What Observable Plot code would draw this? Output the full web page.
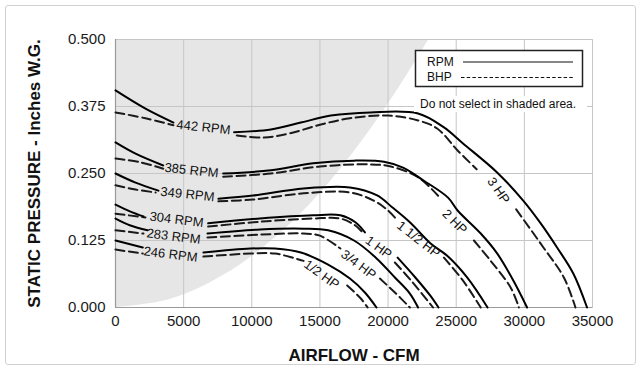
<!DOCTYPE html>
<html>
<head>
<meta charset="utf-8">
<script src="https://cdn.jsdelivr.net/npm/d3@7"></script>
<script src="https://cdn.jsdelivr.net/npm/@observablehq/plot@0.6"></script>
<style>
  html, body { margin: 0; padding: 0; background: #fff; }
  #wrap { position: relative; width: 643px; height: 368px; overflow: hidden; }
  #border { position: absolute; left: 5px; top: 5px; width: 631px; height: 360px; border: 1px solid #d2d2d2; border-radius: 3px; box-sizing: border-box; }
  #chart { position: absolute; left: 0; top: 0; }
  #overlay { position: absolute; left: 0; top: 0; pointer-events: none; }
</style>
</head>
<body>
<div id="wrap">
  <div id="border"></div>
  <div id="chart"></div>
  <svg id="overlay" width="643" height="368"></svg>
</div>
<script>
// ---------- data (airflow CFM, static pressure in. W.G.) ----------
const xTicks = [0, 5000, 10000, 15000, 20000, 25000, 30000, 35000];
const yTicks = [0, 0.125, 0.25, 0.375, 0.5];

// boundary of the shaded "do not select" region
const shadeBoundary = [[0,0],[4000,0.015],[8000,0.061],[12000,0.136],[16000,0.242],[20000,0.379],[23000,0.5]];

// RPM curves (solid); null = gap for label
const rpm442 = [[0,0.405],[2200,0.371],[4250,0.345],null,[8700,0.327],[11400,0.332],[13600,0.345],[15800,0.358],[18700,0.364],[22200,0.362],[24100,0.336],[25500,0.306],[28000,0.252],[29900,0.200],[31200,0.157],[32400,0.112],[33600,0.063],[34600,0]];
const rpm385 = [[0,0.308],[1470,0.287],[3500,0.265],null,[7900,0.250],[11400,0.256],[14500,0.269],[17500,0.274],[19700,0.272],[21100,0.261],[22600,0.237],[24400,0.205],[25100,0.181],[26800,0.138],[28000,0.101],[29200,0.050],[30200,0]];
const rpm349 = [[0,0.250],[1470,0.233],[3150,0.218],null,[7550,0.203],[10100,0.209],[13800,0.222],[17200,0.224],[19200,0.209],[20300,0.187],[21600,0.159],[23100,0.120],[24400,0.095],[25800,0.056],[27300,0]];
const rpm304 = [[0,0.192],[1100,0.179],[2050,0.170],null,[6800,0.157],[10600,0.166],[14500,0.172],[16500,0.172],[17600,0.159],[18300,0.140],null,[20700,0.093],[22000,0.056],[23100,0.022],[23700,0]];
const rpm283 = [[0,0.166],[1100,0.153],[2350,0.144],null,[6750,0.138],[10600,0.1455],[13800,0.147],[15600,0.144],[17500,0.125],[19100,0.093],[20500,0.056],[21600,0.026],[22200,0]];
const rpm246 = [[0,0.125],[2000,0.112],null,[6450,0.1026],[9900,0.110],[11700,0.110],[13600,0.1026],[15600,0.080],[17200,0.054],[18300,0.028],[19150,0]];

// BHP curves (dashed)
const bhp3 = [[0,0.364],[2200,0.353],[4250,0.340],null,[8900,0.321],[10900,0.317],[12800,0.325],[15000,0.341],[17200,0.353],[20000,0.358],[22200,0.349],[23600,0.334],[25100,0.293],[26500,0.258],null,[29400,0.183],[31400,0.112],[32900,0.056],[33750,0]];
const bhp2 = [[0,0.278],[1800,0.271],[3500,0.259],null,[7900,0.244],[11400,0.250],[15000,0.263],[18700,0.267],[20200,0.263],[22200,0.243],[23800,0.205],null,[26300,0.125],[27500,0.088],[29000,0.037],[29600,0]];
const bhp15 = [[0,0.228],[1470,0.220],[2950,0.2146],null,[7550,0.198],[10100,0.2015],[13800,0.213],[17200,0.2146],[18900,0.200],[20000,0.181],[20700,0.162],null,[24100,0.093],[25500,0.050],[26800,0]];
const bhp1 = [[0,0.175],[2200,0.168],null,[6800,0.151],[10600,0.160],[14500,0.166],[16500,0.166],[17600,0.153],[18200,0.138],null,[20500,0.084],[21800,0.047],[23300,0]];
const bhp34 = [[0,0.144],[2050,0.138],null,[6750,0.1306],[10600,0.136],[13800,0.138],[15000,0.134],[16500,0.110],null,[19400,0.054],[20500,0.028],[21600,0]];
const bhp12 = [[0,0.108],[2000,0.1007],null,[6450,0.095],[9900,0.1007],[11700,0.1007],[13200,0.0914],[13800,0.087],null,[17000,0.041],[18000,0.0168],[18500,0]];

// curve labels
const rpmText  = ["442 RPM","385 RPM","349 RPM","304 RPM","283 RPM","246 RPM"];
const rpmX     = [6450, 5580, 5280, 4480, 4260, 4040];
const rpmY     = [0.336, 0.2556, 0.211, 0.164, 0.1325, 0.099];
const rpmAngle = [6, 6, 6, 7, 7, 7];

const hpText  = ["3 HP","2 HP","1 1/2 HP","1 HP","3/4 HP","1/2 HP"];
const hpX     = [28100, 24880, 22230, 19300, 17830, 15120];
const hpY     = [0.218, 0.160, 0.127, 0.112, 0.080, 0.0616];
const hpAngle = [55, 45, 38, 36, 37, 36];

const xTitle = "AIRFLOW - CFM";
const yTitle = "STATIC PRESSURE - Inches W.G.";
const legendItems = ["RPM", "BHP"];
const note = "Do not select in shaded area.";

// ---------- chart ----------
const FONT = "Liberation Sans, Arial, Helvetica, sans-serif";
const px = d => (d ? d[0] : undefined);
const py = d => (d ? d[1] : undefined);
const solids = [rpm442, rpm385, rpm349, rpm304, rpm283, rpm246];
const dashes = [bhp3, bhp2, bhp15, bhp1, bhp34, bhp12];

const marks = [
  Plot.areaX(shadeBoundary, {x1: 0, x2: d => d[0], y: d => d[1], fill: "#e6e6e6", curve: "catmull-rom"}),
  Plot.gridX(xTicks, {stroke: "#c6c6c6", strokeOpacity: 1}),
  Plot.gridY(yTicks, {stroke: "#c6c6c6", strokeOpacity: 1}),
  Plot.frame({stroke: "#c6c6c6"}),
  Plot.ruleX([0], {stroke: "#9a9a9a", strokeWidth: 1.2}),
  Plot.ruleY([0], {stroke: "#9a9a9a", strokeWidth: 1.2}),
];
for (const s of dashes) marks.push(Plot.line(s, {x: px, y: py, stroke: "#1a1a1a", strokeWidth: 2, strokeDasharray: "9,4.5", curve: "catmull-rom"}));
for (const s of solids) marks.push(Plot.line(s, {x: px, y: py, stroke: "#000", strokeWidth: 2, curve: "catmull-rom"}));
marks.push(
  Plot.text(rpmText, {x: (d, i) => rpmX[i], y: (d, i) => rpmY[i], text: d => d, rotate: (d, i) => rpmAngle[i], fontSize: 13, fill: "#111", fontFamily: FONT}),
  Plot.text(hpText, {x: (d, i) => hpX[i], y: (d, i) => hpY[i], text: d => d, rotate: (d, i) => hpAngle[i], fontSize: 13, fill: "#111", fontFamily: FONT}),
  Plot.text([yTitle], {frameAnchor: "left", dx: -81, rotate: -90, textAnchor: "middle", lineAnchor: "middle", text: d => d, fontSize: 17, fontWeight: "bold", fill: "#111", fontFamily: FONT}),
  Plot.text([xTitle], {frameAnchor: "bottom", dy: 48, textAnchor: "middle", lineAnchor: "middle", text: d => d, fontSize: 17, fontWeight: "bold", fill: "#111", fontFamily: FONT})
);

const chart = Plot.plot({
  width: 643,
  height: 368,
  marginLeft: 115,
  marginRight: 51,
  marginTop: 39,
  marginBottom: 61,
  style: {fontFamily: FONT, fontSize: "15px", color: "#1a1a1a", background: "transparent", overflow: "visible"},
  x: {domain: [0, 35000], ticks: xTicks, tickFormat: d => String(d), tickSize: 0, tickPadding: 8, label: null},
  y: {domain: [0, 0.5], ticks: yTicks, tickFormat: d => d.toFixed(3), tickSize: 0, tickPadding: 10, label: null},
  marks
});
document.getElementById("chart").appendChild(chart);

// ---------- legend + note (overlay) ----------
const ov = d3.select("#overlay");
ov.append("rect").attr("x", 415.5).attr("y", 50.5).attr("width", 167).attr("height", 36)
  .attr("fill", "#fff").attr("stroke", "#222").attr("stroke-width", 1.5);
ov.selectAll("text.leg").data(legendItems).join("text").attr("class", "leg")
  .attr("x", 427).attr("y", (d, i) => 65.5 + i * 15.5)
  .attr("font-family", FONT).attr("font-size", 12).attr("fill", "#111").text(d => d);
ov.append("line").attr("x1", 463).attr("x2", 573).attr("y1", 62).attr("y2", 62).attr("stroke", "#111").attr("stroke-width", 1.2);
ov.append("line").attr("x1", 461).attr("x2", 573).attr("y1", 77.5).attr("y2", 77.5).attr("stroke", "#111").attr("stroke-width", 1).attr("stroke-dasharray", "3.5,2.2");
ov.append("rect").attr("x", 414).attr("y", 96).attr("width", 173).attr("height", 16).attr("fill", "#fff");
ov.append("text").attr("x", 420).attr("y", 108).attr("font-family", FONT).attr("font-size", 12).attr("fill", "#111").text(note);
</script>
</body>
</html>
